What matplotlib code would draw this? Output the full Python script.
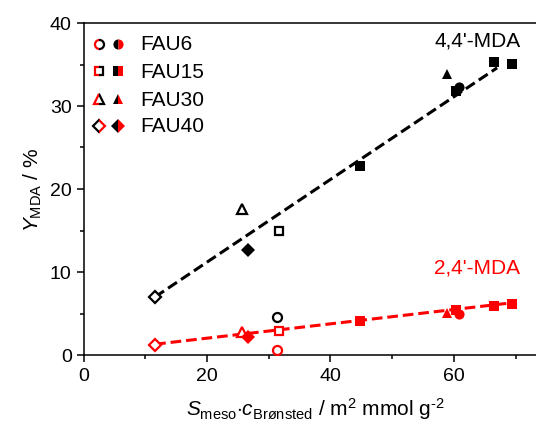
import numpy as np
import matplotlib
matplotlib.use("Agg")
from matplotlib import pyplot as plt
from matplotlib.patches import Rectangle
from matplotlib.ticker import MultipleLocator

plt.rcParams['font.family'] = ['Liberation Sans', 'DejaVu Sans']
plt.rcParams['mathtext.fontset'] = 'custom'
plt.rcParams['mathtext.rm'] = 'Liberation Sans'
plt.rcParams['mathtext.it'] = 'Liberation Sans:italic'

# samples and their symbols
samples = ['FAU6', 'FAU15', 'FAU30', 'FAU40']
markers = ['o', 's', '^', 'D']

# open symbols (one point per sample)
x_open = [31.4, 31.7, 25.7, 11.6]
y44_open = [4.6, 14.9, 17.6, 7.0]
y24_open = [0.6, 2.9, 2.8, 1.2]

# filled symbols
x_filled = [[60.9], [44.8, 60.4, 66.5, 69.4], [58.9], [26.7]]
y44_filled = [[32.3], [22.8, 31.8, 35.3, 35.1], [33.8], [12.7]]
y24_filled = [[5.0], [4.1, 5.4, 5.9, 6.2], [5.1], [2.2]]

# linear fits
fit44_x = [11.6, 67.0]
fit44_y = [7.0, 34.6]
fit24_x = [11.6, 69.5]
fit24_y = [1.3, 6.3]

RED = '#ff0000'
# marker size per symbol (open / filled)
ms_open = {'o': 6.5, 's': 6.0, '^': 6.5, 'D': 6.0}
ms_fill = {'o': 7.3, 's': 6.8, '^': 7.5, 'D': 7.0}

fig = plt.figure(figsize=(5.36, 4.35), dpi=100)
ax = fig.add_axes([83.5 / 536, 79 / 435, 463 / 536, 332 / 435])

ax.plot(fit44_x, fit44_y, color='black', lw=2.2, ls=(0, (3.5, 1.6)), zorder=2)
ax.plot(fit24_x, fit24_y, color=RED, lw=2.2, ls=(0, (3.5, 1.6)), zorder=2)

for i in range(len(samples)):
    m = markers[i]
    ax.plot(x_open[i], y44_open[i], m, ms=ms_open[m], mfc='white', mec='black', mew=1.6, zorder=3)
    ax.plot(x_open[i], y24_open[i], m, ms=ms_open[m], mfc='white', mec=RED, mew=1.6, zorder=3)
    ax.plot(x_filled[i], y44_filled[i], m, ms=ms_fill[m], color='black', mew=0, zorder=3)
    ax.plot(x_filled[i], y24_filled[i], m, ms=ms_fill[m], color=RED, mew=0, zorder=3)

ax.text(63.8, 37.9, "4,4'-MDA", fontsize=15, color='black', ha='center', va='center')
ax.text(63.8, 10.6, "2,4'-MDA", fontsize=15, color=RED, ha='center', va='center')

# legend drawn by hand: half red / half black symbols
leg_y = [0.937, 0.855, 0.771, 0.690]
x_o, x_f, x_t = 0.0335, 0.0745, 0.122
open_left = [RED, RED, RED, 'black']
open_right = ['black', 'black', 'black', RED]
for i in range(len(samples)):
    m = markers[i]
    for col, rect in [(open_left[i], (0, 0, x_o, 1)), (open_right[i], (x_o, 0, 1 - x_o, 1))]:
        ln, = ax.plot(x_o, leg_y[i], m, ms=ms_open[m], mfc='white', mec=col, mew=1.6,
                      transform=ax.transAxes, zorder=5)
        ln.set_clip_path(Rectangle(rect[:2], rect[2], rect[3], transform=ax.transAxes))
    ax.plot(x_f, leg_y[i], m, ms=ms_fill[m], fillstyle='left', mfc='black', mfcalt=RED,
            mew=0, transform=ax.transAxes, zorder=5)
    ax.text(x_t, leg_y[i], samples[i], fontsize=15, transform=ax.transAxes,
            ha='left', va='center')

ax.set_xlim(0, 75)
ax.set_ylim(0, 40)
ax.xaxis.set_major_locator(MultipleLocator(20))
ax.xaxis.set_minor_locator(MultipleLocator(10))
ax.yaxis.set_major_locator(MultipleLocator(10))
ax.yaxis.set_minor_locator(MultipleLocator(5))
ax.tick_params(which='both', direction='out', top=False, right=False, labelsize=14, width=1.1)
ax.tick_params(which='major', length=5)
ax.tick_params(which='minor', length=3)
for s in ax.spines.values():
    s.set_linewidth(1.1)

ax.set_xlabel(r'$\mathit{S}_{\mathrm{meso}}{\cdot}\mathit{c}_{\mathrm{Brønsted}}$ / m$^{2}$ mmol g$^{\mathrm{‐2}}$',
              fontsize=15, labelpad=8)
ax.set_ylabel(r'$\mathit{Y}_{\mathrm{MDA}}$ / %', fontsize=15, labelpad=4)

fig.savefig('out.png', dpi=100)
